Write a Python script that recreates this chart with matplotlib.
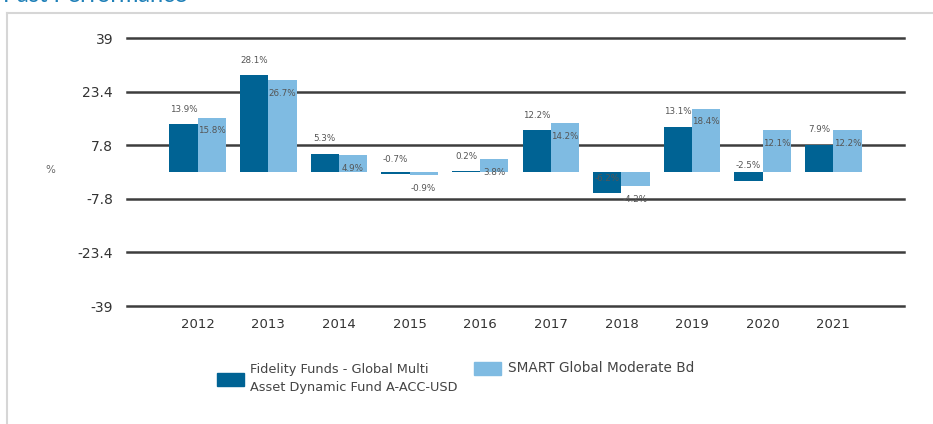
import matplotlib
matplotlib.use("Agg")
import matplotlib.pyplot as plt
from matplotlib.patches import Rectangle
from matplotlib.lines import Line2D

years = ["2012", "2013", "2014", "2015", "2016", "2017", "2018", "2019", "2020", "2021"]
fund_name = "Fidelity Funds - Global Multi\nAsset Dynamic Fund A-ACC-USD"
bench_name = "SMART Global Moderate Bd"
fund_values = [13.9, 28.1, 5.3, -0.7, 0.2, 12.2, -6.2, 13.1, -2.5, 7.9]
bench_values = [15.8, 26.7, 4.9, -0.9, 3.8, 14.2, -4.2, 18.4, 12.1, 12.2]
y_ticks = [-39, -23.4, -7.8, 7.8, 23.4, 39]
y_tick_labels = ["-39", "-23.4", "-7.8", "7.8", "23.4", "39"]

dark = "#006394"
light = "#7fbbe2"
W, H = 933, 424
fig = plt.figure(figsize=(W / 100, H / 100), dpi=100)
fig.patch.set_facecolor("white")

# frame lines
fig.add_artist(Line2D([7 / W, 7 / W], [0, 1 - 13 / H], color="#d6d6d6", lw=1.5, transform=fig.transFigure))
fig.add_artist(Line2D([7 / W, 1], [1 - 13 / H, 1 - 13 / H], color="#d6d6d6", lw=1.5, transform=fig.transFigure))
fig.text(3 / W, 1 - 2.5 / H, "Past Performance", color="#1f80b8", fontsize=17, va="baseline", ha="left",
         family="Lato")

ax = fig.add_axes([127 / W, 1 - 306 / H, (904 - 127) / W, (306 - 38) / H])
x = list(range(len(years)))
bw = 0.4
ax.bar([i - bw / 2 for i in x], fund_values, width=bw, color=dark, zorder=3)
ax.bar([i + bw / 2 for i in x], bench_values, width=bw, color=light, zorder=3)

for yt in y_ticks:
    ax.axhline(yt, color="#3d3d3d", lw=1.8, zorder=1, clip_on=False)

ax.set_xlim(-1, 10)
ax.set_ylim(-39, 39)
ax.set_yticks(y_ticks)
ax.set_yticklabels(y_tick_labels)
ax.set_xticks(x)
ax.set_xticklabels(years)
ax.tick_params(axis="both", length=0, labelcolor="#333333")
ax.tick_params(axis="y", pad=10, labelsize=10)
ax.tick_params(axis="x", pad=9, labelsize=9.5)
for s in ax.spines.values():
    s.set_visible(False)

for i, v in enumerate(fund_values):
    ax.annotate(f"{v}%", (i - bw / 2, v), xytext=(0, 10.8), textcoords="offset points",
                ha="center", va="center", fontsize=6.3, color="#555555", zorder=4)
for i, v in enumerate(bench_values):
    ax.annotate(f"{v}%", (i + bw / 2, v), xytext=(0, -9.5), textcoords="offset points",
                ha="center", va="center", fontsize=6.3, color="#555555", zorder=4)

fig.text(50 / W, 1 - 170 / H, "%", fontsize=7.5, color="#666666", ha="center", va="center")

# legend
fig.add_artist(Rectangle((217 / W, 1 - 386 / H), 27 / W, 13 / H, color=dark, transform=fig.transFigure))
fig.text(250 / W, 1 - 378 / H, fund_name, fontsize=9.3, color="#444444", ha="left", va="center",
         linespacing=1.5)
fig.add_artist(Rectangle((474 / W, 1 - 375 / H), 27 / W, 13 / H, color=light, transform=fig.transFigure))
fig.text(508 / W, 1 - 368 / H, bench_name, fontsize=9.8, color="#444444", ha="left", va="center")

fig.savefig("out.png", dpi=100, facecolor="white")
